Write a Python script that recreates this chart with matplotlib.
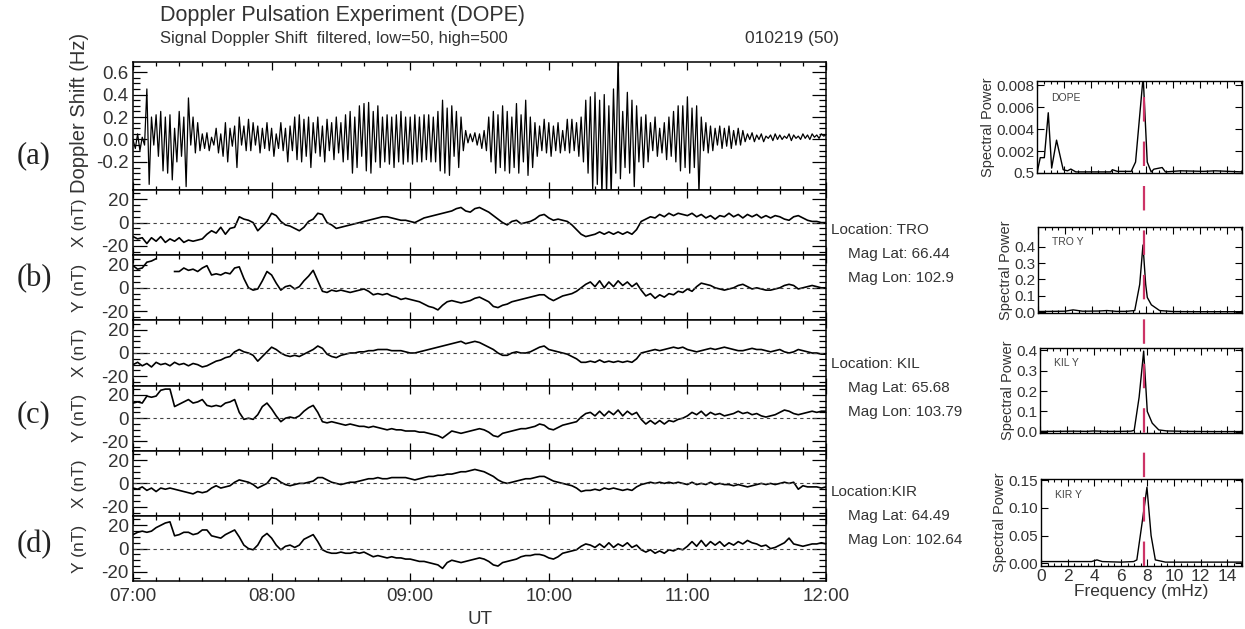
import numpy as np
import matplotlib
matplotlib.use("Agg")
import matplotlib.pyplot as plt
from matplotlib.ticker import MultipleLocator

plt.rcParams['font.family'] = ['Liberation Sans', 'DejaVu Sans']

W, H, DPI = 1245, 629, 100
TXT = '#333333'

# ---------------------------------------------------------------
# Doppler shift (Hz), one value per minute from 07:00 to 12:00
# ---------------------------------------------------------------
doppler_hz = [
    0.0, -0.08, 0.05, -0.1, 0.02, -0.05, 0.45, -0.40, 0.20, -0.05,
    0.22, -0.15, 0.25, -0.28, 0.2, -0.3, 0.22, -0.36, 0.1, -0.2,
    0.25, -0.15, 0.2, -0.42, 0.37, -0.05, 0.2, -0.12, 0.15, -0.1,
    0.05, -0.08, 0.06, -0.1, 0.02, -0.05, 0.1, -0.12, 0.05, -0.15,
    0.15, -0.2, 0.1, -0.06, 0.12, -0.25, 0.2, -0.05, 0.12, -0.1,
    0.18, -0.1, 0.15, -0.05, 0.12, -0.12, 0.1, -0.08, 0.15, -0.1,
    0.1, -0.15, 0.05, -0.08, 0.15, -0.1, 0.1, -0.2, 0.12, -0.1,
    0.2, -0.18, 0.22, -0.2, 0.18, -0.15, 0.2, -0.25, 0.15, -0.12,
    0.2, -0.15, 0.12, -0.2, 0.18, -0.1, 0.15, -0.18, 0.2, -0.12,
    0.15, -0.2, 0.22, -0.18, 0.25, -0.3, 0.2, -0.25, 0.3, -0.15,
    0.32, -0.28, 0.33, -0.3, 0.25, -0.2, 0.3, -0.25, 0.2, -0.2,
    0.22, -0.22, 0.2, -0.25, 0.22, -0.2, 0.25, -0.22, 0.2, -0.2,
    0.2, -0.22, 0.22, -0.2, 0.2, -0.2, 0.22, -0.18, 0.22, -0.2,
    0.2, -0.2, 0.25, -0.28, 0.35, -0.3, 0.28, -0.32, 0.3, -0.15,
    0.25, -0.25, 0.2, -0.1, 0.08, -0.03, 0.05, -0.02, 0.06, -0.05,
    0.05, -0.08, 0.08, -0.1, 0.2, -0.2, 0.25, -0.3, 0.22, -0.25,
    0.3, -0.28, 0.25, -0.3, 0.2, -0.25, 0.32, -0.3, 0.22, -0.2,
    0.35, -0.32, 0.2, -0.25, 0.15, -0.15, 0.12, -0.1, 0.18, -0.12,
    0.15, -0.15, 0.12, -0.1, 0.15, -0.12, 0.08, -0.1, 0.18, -0.12,
    0.18, -0.1, 0.15, -0.15, 0.2, -0.2, 0.35, -0.3, 0.38, -0.45,
    0.42, -0.4, 0.35, -0.5, 0.4, -0.48, 0.3, -0.5, 0.45, -0.3,
    0.75, -0.35, 0.25, -0.25, 0.42, -0.3, 0.35, -0.42, 0.3, -0.2,
    0.2, -0.25, 0.22, -0.2, 0.15, -0.1, 0.2, -0.15, 0.1, -0.12,
    0.15, -0.18, 0.2, -0.15, 0.25, -0.2, 0.3, -0.28, 0.3, -0.25,
    0.38, -0.3, 0.28, -0.25, 0.3, -0.48, 0.2, -0.1, 0.15, -0.12,
    0.12, -0.1, 0.1, -0.05, 0.12, -0.08, 0.1, -0.06, 0.12, -0.08,
    0.08, -0.05, 0.1, -0.05, 0.08, -0.02, 0.05, 0.0, 0.06, -0.02,
    0.04, 0.0, 0.05, -0.02, 0.03, 0.01, 0.04, -0.01, 0.05, 0.0,
    0.04, 0.0, 0.03, 0.01, 0.05, -0.01, 0.04, 0.01, 0.03, 0.0,
    0.05, 0.01, 0.04, 0.0, 0.05, 0.02, 0.04, 0.01, 0.05, 0.03, 0.04,
]

# ---------------------------------------------------------------
# magnetometer components (nT), one value every 2 minutes
# ---------------------------------------------------------------
nan = np.nan
x_tro = [
    -12, -14, -13, -18, -13, -16, -12, -17, -14, -16,
    -13, -17, -15, -16, -15, -14, -10, -7, -9, -4,
    -10, -5, -4, 5, 3, 2, 0, -7, -3, 1,
    8, 6, 1, -2, -3, -5, -7, -4, 1, 3,
    8, 7, 0, -2, -5, -4, -3, -2, -1, 0,
    1, 2, 3, 4, 5, 5, 4, 3, 2, 2,
    1, 0, 2, 4, 5, 6, 7, 8, 9, 10,
    12, 13, 10, 9, 12, 13, 11, 9, 6, 3,
    0, -2, 1, 2, -1, 0, 1, 3, 6, 7,
    4, 2, 3, 2, 1, -2, -6, -10, -12, -11,
    -10, -8, -10, -8, -10, -8, -10, -8, -10, -6,
    1, 3, 5, 4, 7, 5, 8, 6, 8, 7,
    6, 8, 5, 7, 4, 6, 3, 6, 5, 8,
    5, 7, 4, 7, 5, 7, 4, 6, 4, 6,
    5, 3, 2, 5, 6, 4, 2, 1, 1, 0,
    0,
]
y_tro = [
    19, 16, 17, 22, 23, 25, nan, nan, nan, 14,
    14, 17, 15, 16, 14, 17, 19, 11, 12, 11,
    13, 12, 17, 18, 8, 0, -2, -1, 6, 14,
    11, 4, -2, 1, 2, -1, 1, 6, 10, 15,
    6, -3, -4, -2, -3, -2, -3, -4, -3, -2,
    -1, -3, -6, -5, -6, -5, -7, -8, -10, -9,
    -10, -11, -12, -14, -16, -17, -19, -15, -12, -11,
    -12, -13, -12, -11, -9, -8, -10, -12, -16, -17,
    -15, -14, -12, -11, -10, -9, -8, -7, -6, -6,
    -9, -11, -9, -7, -6, -5, -3, 0, 3, 5,
    1, 6, 0, 5, 1, 6, 2, 5, 1, 4,
    -2, -7, -5, -9, -6, -8, -5, -6, -3, -4,
    -1, -3, 1, 4, 3, 2, 0, -1, -2, -1,
    0, 2, 3, 1, -1, 0, -1, -2, -2, -1,
    0, 2, 3, 2, -1, 0, 1, 2, 1, 0,
    0,
]
x_kil = [
    -10, -8, -11, -9, -12, -8, -10, -9, -11, -8,
    -10, -9, -11, -9, -10, -12, -11, -9, -7, -6,
    -4, -3, 1, 3, 1, 0, -2, -7, -3, 1,
    5, 3, 0, -2, -3, -2, -3, -1, 1, 3,
    6, 4, -1, -3, -4, -2, -1, 0, 0, 1,
    1, 2, 2, 3, 3, 3, 2, 2, 2, 1,
    0, 0, 1, 2, 3, 4, 5, 6, 7, 8,
    9, 10, 8, 9, 10, 9, 7, 5, 3, 0,
    -2, -2, 0, 1, 0, 0, 1, 3, 5, 6,
    3, 2, 1, 0, -1, -3, -5, -8, -8, -7,
    -8, -6, -8, -7, -8, -7, -8, -7, -8, -5,
    0, 1, 2, 3, 2, 3, 4, 5, 4, 5,
    3, 2, 1, 2, 3, 4, 3, 4, 5, 4,
    3, 2, 2, 3, 4, 3, 3, 2, 1, 2,
    3, 1, 0, 1, 3, 2, 1, 0, 0, -1,
    -1,
]
y_kil = [
    13, 14, 13, 19, 18, 19, 24, 25, 25, 10,
    12, 14, 16, 13, 14, 16, 11, 10, 11, 10,
    13, 14, 16, 5, -1, 0, -1, 3, 10, 13,
    8, 2, -3, 0, 1, 0, 2, 6, 9, 11,
    5, -3, -4, -3, -4, -5, -6, -5, -6, -7,
    -7, -8, -7, -8, -9, -10, -9, -10, -10, -11,
    -11, -11, -12, -12, -13, -14, -15, -17, -14, -11,
    -12, -13, -12, -11, -10, -9, -10, -12, -15, -16,
    -13, -12, -11, -10, -9, -9, -8, -7, -5, -6,
    -9, -10, -8, -6, -5, -4, -3, 1, 4, 5,
    2, 6, 2, 6, 3, 7, 2, 6, 3, 5,
    -1, -5, -2, -5, -2, -5, -2, -3, -1, 0,
    2, 5, 3, 6, 2, 5, 3, 4, 2, 3,
    4, 6, 4, 5, 3, 4, 2, 1, 2, 3,
    5, 7, 6, 4, 3, 4, 5, 6, 5, 6,
    6,
]
x_kir = [
    -4, -5, -3, -6, -4, -7, -4, -5, -4, -5,
    -6, -7, -8, -9, -7, -8, -7, -4, -2, -4,
    -3, -2, 1, 3, 2, 1, -1, -4, -2, 0,
    5, 4, 1, -1, -2, -1, 0, 0, 1, 2,
    5, 5, 3, 1, 0, -1, 0, 1, 1, 2,
    3, 4, 4, 5, 4, 4, 5, 5, 5, 5,
    4, 3, 4, 5, 6, 6, 7, 7, 8, 8,
    9, 10, 10, 11, 12, 11, 10, 8, 6, 3,
    1, 0, 1, 2, 3, 4, 4, 5, 6, 6,
    4, 2, 1, 0, -1, -2, -4, -7, -6, -6,
    -5, -6, -4, -5, -4, -5, -6, -5, -6, -3,
    -1, 0, 1, 0, 1, 0, 1, 0, 1, 0,
    -1, 1, -1, 0, -1, 1, -1, 0, -1, -1,
    -2, -1, -2, -3, -2, -1, 0, -1, 0, -1,
    0, 1, 0, 1, -5, -2, -3, -3, -3, -4,
    -3,
]
y_kir = [
    12, 14, 15, 14, 15, 18, 20, 22, 23, 11,
    12, 14, 14, 12, 13, 16, 16, 11, 10, 9,
    12, 14, 16, 10, 3, 0, -1, 3, 10, 13,
    9, 3, -1, 2, 3, 1, 3, 8, 10, 12,
    6, -1, -3, -4, -4, -3, -4, -4, -3, -4,
    -3, -5, -7, -6, -7, -8, -7, -8, -8, -9,
    -9, -10, -11, -11, -12, -13, -14, -17, -12, -10,
    -11, -12, -11, -10, -9, -8, -9, -11, -14, -15,
    -12, -11, -10, -9, -7, -6, -6, -5, -5, -6,
    -8, -9, -7, -4, -3, -2, -1, 2, 4, 3,
    1, 4, 1, 5, 1, 4, 2, 5, 1, 3,
    -1, -3, -1, -4, -2, -4, -1, -2, 0, -1,
    2, 6, 2, 7, 2, 6, 3, 6, 2, 5,
    3, 6, 4, 7, 5, 4, 2, 3, 0, 1,
    3, 5, 9, 4, 3, 2, 3, 4, 4, 5,
    4,
]

ut_hours = [7, 8, 9, 10, 11, 12]
ut_labels = ['07:00', '08:00', '09:00', '10:00', '11:00', '12:00']

mag_panels = [
    (x_tro, 'X (nT)'), (y_tro, 'Y (nT)'),
    (x_kil, 'X (nT)'), (y_kil, 'Y (nT)'),
    (x_kir, 'X (nT)'), (y_kir, 'Y (nT)'),
]
stations = [
    ('Location: TRO', 'Mag Lat: 66.44', 'Mag Lon: 102.9'),
    ('Location: KIL', 'Mag Lat: 65.68', 'Mag Lon: 103.79'),
    ('Location:KIR', 'Mag Lat: 64.49', 'Mag Lon: 102.64'),
]

# ---------------------------------------------------------------
# spectra (frequency in mHz, spectral power)
# ---------------------------------------------------------------
dope_f = [0.0, 0.24, 0.54, 0.83, 1.08, 1.44, 1.93, 2.25, 2.49, 2.86, 4.0, 5.43,
          5.55, 5.92, 6.94, 7.26, 7.82, 8.12, 8.41, 8.61, 9.22, 9.46, 10.56,
          12.27, 13.13, 15.1]
dope_p = [0.0, 0.0014, 0.0014, 0.0055, 0.00045, 0.003, 0.0003, 0.0002, 0.00036,
          0.0001, 0.0001, 0.0001, 0.0003, 0.00015, 0.00015, 0.001, 0.0088, 0.001,
          0.0001, 0.00035, 0.0005, 0.0001, 0.0002, 0.00015, 0.0002, 0.0001]
tro_f = [0.0, 1.0, 2.0, 2.6, 3.3, 4.5, 5.1, 5.8, 6.5, 7.16, 7.53, 7.77, 7.97,
         8.09, 8.39, 9.0, 10.0, 12.0, 15.1]
tro_p = [0.004, 0.005, 0.006, 0.014, 0.006, 0.007, 0.01, 0.005, 0.005, 0.01,
         0.17, 0.41, 0.17, 0.09, 0.045, 0.01, 0.004, 0.003, 0.003]
kil_f = [0.0, 1.0, 2.5, 3.5, 4.0, 5.0, 6.0, 6.8, 7.04, 7.41, 7.75, 8.02, 8.39,
         8.88, 9.5, 11.0, 13.0, 15.1]
kil_p = [0.003, 0.003, 0.004, 0.003, 0.005, 0.003, 0.003, 0.004, 0.008, 0.17,
         0.395, 0.1, 0.043, 0.01, 0.005, 0.003, 0.002, 0.002]
kir_f = [0.0, 1.5, 3.0, 3.8, 4.2, 4.6, 6.0, 6.96, 7.2, 7.59, 7.96, 8.27, 8.59,
         9.35, 11.0, 13.0, 15.1]
kir_p = [0.003, 0.003, 0.003, 0.003, 0.006, 0.003, 0.002, 0.003, 0.006, 0.072,
         0.137, 0.05, 0.006, 0.002, 0.002, 0.002, 0.002]
pulsation_freq = 7.8

spectra = [
    # freq, power, tag, ylim, yticks, ytick labels, box (left, top, right, bottom) px
    (dope_f, dope_p, 'DOPE', (0, 0.0084), [0, 0.002, 0.004, 0.006, 0.008],
     ['0.5', '0.002', '0.004', '0.006', '0.008'], (1037, 81, 1242, 173)),
    (tro_f, tro_p, 'TRO Y', (-0.005, 0.52), [0.0, 0.1, 0.2, 0.3, 0.4],
     ['0.0', '0.1', '0.2', '0.3', '0.4'], (1038, 227, 1242, 313)),
    (kil_f, kil_p, 'KIL Y', (-0.005, 0.41), [0.0, 0.1, 0.2, 0.3, 0.4],
     ['0.0', '0.1', '0.2', '0.3', '0.4'], (1040, 348, 1242, 433)),
    (kir_f, kir_p, 'KIR Y', (-0.005, 0.152), [0.0, 0.05, 0.10, 0.15],
     ['0.00', '0.05', '0.10', '0.15'], (1041, 479, 1242, 566)),
]
freq_ticks = [0, 2, 4, 6, 8, 10, 12, 14]


def px_axes(fig, left, top, right, bottom):
    return fig.add_axes([left / W, 1 - bottom / H, (right - left) / W, (bottom - top) / H])


def px_text(fig, x, y, s, **kw):
    kw.setdefault('color', TXT)
    return fig.text(x / W, 1 - y / H, s, **kw)


def style_time_axis(ax, bottom_labels=False):
    ax.set_xlim(7, 12)
    ax.xaxis.set_major_locator(MultipleLocator(1))
    ax.xaxis.set_minor_locator(MultipleLocator(1 / 6))
    ax.tick_params(which='both', direction='in', top=True, right=True,
                   color='black', labelcolor=TXT, width=0.9)
    ax.tick_params(axis='x', which='major', length=6, labelsize=13.5, pad=5)
    ax.tick_params(axis='x', which='minor', length=3)
    ax.tick_params(axis='y', which='major', length=10, labelsize=13.5, pad=3)
    ax.tick_params(axis='y', which='minor', length=5)
    if bottom_labels:
        ax.set_xticks(ut_hours, ut_labels)
    else:
        ax.tick_params(axis='x', labelbottom=False)
    for sp in ax.spines.values():
        sp.set_linewidth(1.1)


fig = plt.figure(figsize=(W / DPI, H / DPI), dpi=DPI)

# titles
px_text(fig, 160, 15, 'Doppler Pulsation Experiment (DOPE)', fontsize=15.5, va='center')
px_text(fig, 160, 38, 'Signal Doppler Shift  filtered, low=50, high=500', fontsize=12, va='center')
px_text(fig, 745, 38, '010219 (50)', fontsize=12.5, va='center')

# panel (a): Doppler shift
main_left, main_right = 133, 826
ax_d = px_axes(fig, main_left, 62, main_right, 190)
t_dop = 7 + np.arange(len(doppler_hz)) / 60.0
ax_d.plot(t_dop, doppler_hz, color='black', lw=0.9)
ax_d.set_ylim(-0.45, 0.69)
ax_d.set_yticks([-0.2, 0.0, 0.2, 0.4, 0.6], ['-0.2', '0.0', '0.2', '0.4', '0.6'])
ax_d.yaxis.set_minor_locator(MultipleLocator(0.05))
style_time_axis(ax_d)
px_text(fig, 80, 113, 'Doppler Shift (Hz)', fontsize=14.5, rotation=90, ha='center', va='center')

# magnetometer panels
panel_top, panel_h = 190, 65.2
t_mag = 7 + np.arange(len(x_tro)) * 2 / 60.0
for i, (vals, label) in enumerate(mag_panels):
    top = panel_top + i * panel_h
    ax = px_axes(fig, main_left, top, main_right, top + panel_h)
    ax.plot(t_mag, vals, color='black', lw=1.2)
    ax.axhline(0, color='#444444', lw=0.8, ls=(0, (3, 3)))
    ax.set_ylim(-28, 28)
    ax.set_yticks([-20, 0, 20], ['-20', '0', '20'])
    ax.yaxis.set_minor_locator(MultipleLocator(5))
    style_time_axis(ax, bottom_labels=(i == len(mag_panels) - 1))
    px_text(fig, 80, top + panel_h / 2, label, fontsize=12.5, rotation=90, ha='center', va='center')

px_text(fig, (main_left + main_right) / 2, 620, 'UT', fontsize=13.5, ha='center', va='center')

# panel letters
for letter, y in [('(a)', 156), ('(b)', 279), ('(c)', 415), ('(d)', 545)]:
    fig.text(34 / W, 1 - y / H, letter, fontsize=22, ha='center', va='center',
             family=['Liberation Serif', 'DejaVu Serif'], color='#222222')

# station info
for (loc, lat, lon), y0 in zip(stations, [230, 364, 492]):
    px_text(fig, 831, y0, loc, fontsize=11, va='center')
    px_text(fig, 848, y0 + 24, lat, fontsize=11, va='center')
    px_text(fig, 848, y0 + 48, lon, fontsize=11, va='center')

# spectra
for k, (f, p, tag, ylim, yt, ytl, box) in enumerate(spectra):
    ax = px_axes(fig, *box)
    ax.plot(f, p, color='black', lw=1.0)
    ax.set_xlim(0, 15.1)
    ax.set_ylim(*ylim)
    ax.set_yticks(yt, ytl)
    ax.xaxis.set_major_locator(MultipleLocator(2))
    ax.xaxis.set_minor_locator(MultipleLocator(0.5))
    ax.tick_params(which='both', direction='in', top=True, right=True,
                   color='black', labelcolor=TXT, width=0.8)
    ax.tick_params(which='major', length=5)
    ax.tick_params(which='minor', length=2.5)
    ax.tick_params(axis='y', labelsize=11, pad=2)
    ax.tick_params(axis='x', labelsize=12.5, pad=2)
    ax.set_ylabel('Spectral Power', fontsize=10.5, color=TXT, labelpad=1)
    ax.text(0.07, 0.82, tag, transform=ax.transAxes, fontsize=7.5, color='#444444',
            va='center')
    if k == len(spectra) - 1:
        ax.set_xticks(freq_ticks, [str(v) for v in freq_ticks])
        ax.set_xlabel('Frequency (mHz)', fontsize=12.5, color=TXT, labelpad=0)
    else:
        ax.tick_params(axis='x', labelbottom=False)
    for sp in ax.spines.values():
        sp.set_linewidth(1.0)

# dashed marker at the pulsation frequency across all spectra
ax_mark = px_axes(fig, 1039, 81, 1242, 566)
ax_mark.set_xlim(0, 15.1)
ax_mark.axvline(pulsation_freq, color='#cc3366', lw=1.6, ls=(0, (11, 9)))
ax_mark.patch.set_alpha(0)
ax_mark.axis('off')

fig.savefig('out.png', dpi=DPI)
